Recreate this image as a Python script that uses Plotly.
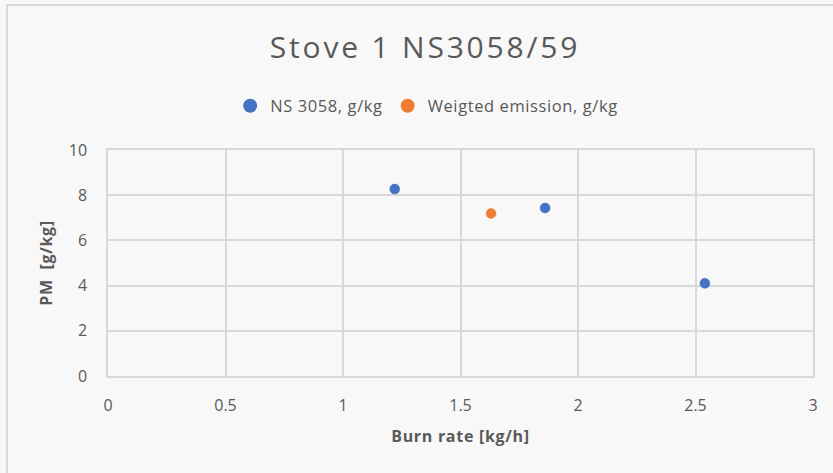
import plotly.graph_objects as go

ns_burn_rate = [1.22, 1.86, 2.54]
ns_pm = [8.27, 7.43, 4.10]
weighted_burn_rate = [1.63]
weighted_pm = [7.19]

x_ticks = [0, 0.5, 1, 1.5, 2, 2.5, 3]
x_tick_labels = ["0", "0.5", "1", "1.5", "2", "2.5", "3"]
y_ticks = [0, 2, 4, 6, 8, 10]

FONT = "Open Sans, Liberation Sans, sans-serif"
GRAY = "#595959"
GRID = "#d9d9d9"


def spaced(text, px):
    return f'<span style="letter-spacing:{px}px">{text}</span>'


fig = go.Figure()
fig.add_trace(go.Scatter(
    x=ns_burn_rate, y=ns_pm, mode="markers", name=spaced("NS 3058, g/kg", 0.6),
    marker=dict(color="#4472C4", size=10, line=dict(color="#4472C4", width=0.5)),
))
fig.add_trace(go.Scatter(
    x=weighted_burn_rate, y=weighted_pm, mode="markers",
    name=spaced("Weigted emission, g/kg", 0.6),
    marker=dict(color="#ED7D31", size=10, line=dict(color="#ED7D31", width=0.5)),
))

W, H = 833, 473
L, R, T, B = 108, 20, 150, 97
pw, ph = W - L - R, H - T - B


def px(xp):
    return (xp - L) / pw


def py(yp):
    return (H - B - yp) / ph


fig.update_layout(
    width=W, height=H,
    margin=dict(l=L, r=R, t=T, b=B),
    paper_bgcolor="#f8f8f8",
    plot_bgcolor="rgba(0,0,0,0)",
    font=dict(family=FONT, color=GRAY),
    title=dict(text=spaced("Stove 1 NS3058/59", 2.8), x=425 / W, xref="container",
               xanchor="center",
               y=1 - 47 / H, yanchor="middle", yref="container",
               font=dict(size=30, color=GRAY, family=FONT)),
    showlegend=True,
    legend=dict(orientation="h", x=0.452, xanchor="center", xref="paper",
                y=py(106), yanchor="middle",
                font=dict(size=16.5, color=GRAY, family=FONT),
                itemwidth=30, itemsizing="constant", bgcolor="rgba(0,0,0,0)"),
    xaxis=dict(range=[0, 3], tickvals=x_ticks, ticktext=x_tick_labels,
               showgrid=True, gridcolor=GRID, gridwidth=1.5,
               showline=True, linecolor=GRID, linewidth=1.5, mirror=True,
               zeroline=False, ticks="", ticklabelstandoff=14,
               tickfont=dict(size=16, color=GRAY, family=FONT),
               title=dict(text="<b>" + spaced("Burn rate [kg/h]", 0.7) + "</b>", standoff=16,
                          font=dict(size=16, color=GRAY, family=FONT))),
    yaxis=dict(range=[0, 10], tickvals=y_ticks,
               showgrid=True, gridcolor=GRID, gridwidth=1.5,
               showline=True, linecolor=GRID, linewidth=1.5, mirror=True,
               zeroline=False, ticks="", ticklabelstandoff=16,
               tickfont=dict(size=16, color=GRAY, family=FONT),
               title=dict(text="<b>" + spaced("PM  [g/kg]", 0.7) + "</b>", standoff=12,
                          font=dict(size=16, color=GRAY, family=FONT))),
    shapes=[dict(type="rect", xref="paper", yref="paper",
                 x0=px(7), x1=px(W + 20), y0=py(H + 20), y1=py(5),
                 line=dict(color=GRID, width=2), fillcolor="rgba(0,0,0,0)", layer="below")],
)

fig.write_html("out.html")
